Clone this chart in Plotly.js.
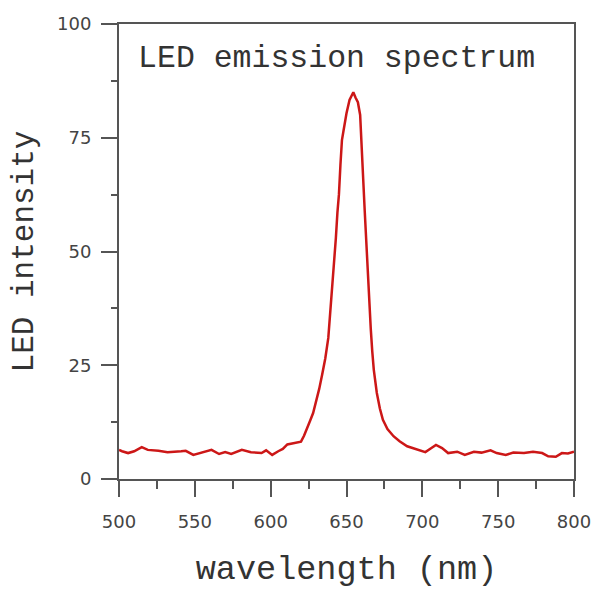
<!DOCTYPE html>
<html>
<head>
<meta charset="utf-8">
<script src="https://cdn.plot.ly/plotly-3.0.1.min.js"></script>
<style>html,body{margin:0;padding:0;background:#fff;}</style>
</head>
<body>
<div id="chart" style="width:594px;height:589px;"></div>
<script>
const wavelength = [500,502,506,510,515,519,526,532,541,544,549,554,561,566,570,574,581,587,594,597,601,605,608,611,615,618,620,622,624,626,628,630,632,634,636,638,640,641,642,643,644,645,646,647,648,650,652,653,654.5,656,657.5,659,660,661,662,663,664,665,666,667,668,670,672,674,677,681,685,690,696,702,706,709,713,717,723,728,734,739,745,749,755,760,767,773,779,783,788,792,796,800];
const intensity = [6.4,6.1,5.7,6.1,7.0,6.4,6.2,5.9,6.1,6.2,5.3,5.7,6.4,5.5,5.9,5.5,6.4,5.9,5.7,6.3,5.3,6.1,6.6,7.6,7.9,8.0,8.2,9.5,11,12.8,14.5,17,19.8,23,26.5,31,39,43.5,48,53,58.5,62.5,69,74.5,76.5,80.4,83.3,84,85,83.8,82.8,80,74,66,59,52,45.5,40,33,28,24,18.9,15.5,13,11,9.4,8.3,7.2,6.6,5.9,6.8,7.5,6.8,5.7,6.0,5.3,6.0,5.8,6.3,5.7,5.3,5.8,5.7,6.0,5.7,5.0,4.9,5.7,5.6,6.0];
const chartTitle = 'LED emission spectrum';
const xTitle = 'wavelength (nm)';
const yTitle = 'LED intensity';

const axisColor = '#555';
const tickFont = {family: 'DejaVu Sans', size: 18, color: '#444'};
const monoFont = 'Liberation Mono';

const trace = {
  x: wavelength, y: intensity, type: 'scatter', mode: 'lines',
  line: {color: '#cc1717', width: 2.5}, hoverinfo: 'skip'
};

const layout = {
  width: 594, height: 589,
  margin: {l: 119, r: 20, t: 24, b: 110},
  paper_bgcolor: '#fff', plot_bgcolor: '#fff',
  showlegend: false,
  title: {text: chartTitle, font: {family: monoFont, size: 31.5, color: '#333'},
          xref: 'paper', x: 0.042, xanchor: 'left', yref: 'paper', y: 0.93, yanchor: 'middle'},
  xaxis: {
    range: [500, 800], tick0: 500, dtick: 50, ticks: 'outside', ticklen: 16, tickwidth: 2, tickcolor: axisColor,
    showline: true, linewidth: 2, linecolor: axisColor, mirror: true, showgrid: false, zeroline: false,
    minor: {tick0: 500, dtick: 25, ticks: 'outside', ticklen: 8, tickwidth: 2, tickcolor: axisColor, showgrid: false},
    tickfont: tickFont, ticklabelstandoff: 9, automargin: false,
    title: {text: xTitle, font: {family: monoFont, size: 33.5, color: '#333'}, standoff: 27}
  },
  yaxis: {
    range: [0, 100], tick0: 0, dtick: 25, ticks: 'outside', ticklen: 16, tickwidth: 2, tickcolor: axisColor,
    showline: true, linewidth: 2, linecolor: axisColor, mirror: true, showgrid: false, zeroline: false,
    minor: {tick0: 0, dtick: 12.5, ticks: 'outside', ticklen: 6, tickwidth: 2, tickcolor: axisColor, showgrid: false},
    tickfont: tickFont, ticklabelstandoff: 6, automargin: false,
    title: {text: yTitle, font: {family: monoFont, size: 31, color: '#333'}, standoff: 14}
  }
};

Plotly.newPlot('chart', [trace], layout, {staticPlot: true, displayModeBar: false});
</script>
</body>
</html>
